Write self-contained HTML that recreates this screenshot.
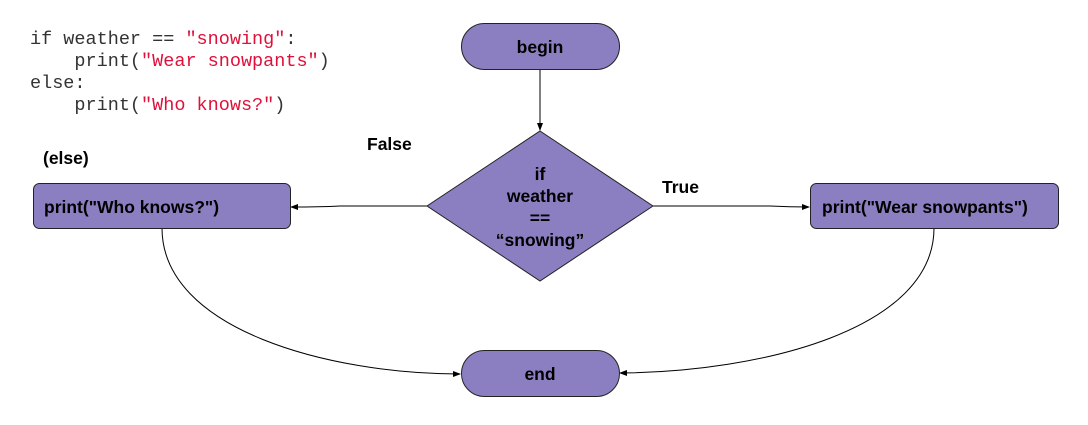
<!DOCTYPE html>
<html><head><meta charset="utf-8"><style>
html,body{margin:0;padding:0;background:#fff;width:1088px;height:425px;overflow:hidden}
svg{display:block}
.b{font-family:"Liberation Sans",sans-serif;font-weight:bold;font-size:17.5px;fill:#000}
.m{font-family:"Liberation Mono",monospace;font-size:18.5px;fill:#333;white-space:pre}
.s{fill:#e0103a}
</style></head><body>
<svg width="1088" height="425" viewBox="0 0 1088 425">
<defs><marker id="a" markerWidth="8" markerHeight="6" refX="7" refY="3" orient="auto" markerUnits="userSpaceOnUse"><path d="M0,0 L8,3 L0,6 z" fill="#000"/></marker></defs>
<text class="m" x="30" y="44" xml:space="preserve">if weather == <tspan class="s">"snowing"</tspan>:</text>
<text class="m" x="30" y="66" xml:space="preserve">    print(<tspan class="s">"Wear snowpants"</tspan>)</text>
<text class="m" x="30" y="88" xml:space="preserve">else:</text>
<text class="m" x="30" y="110" xml:space="preserve">    print(<tspan class="s">"Who knows?"</tspan>)</text>

<g fill="none" stroke="#000" stroke-width="1">
<path d="M540,69 L540,130" marker-end="url(#a)"/>
<path d="M427,206 L340,206 Q320,207 291,207" marker-end="url(#a)"/>
<path d="M653,206 L770,206 Q790,207 809,207" marker-end="url(#a)"/>
<path d="M162,228 C162,330 330,374 460,374" marker-end="url(#a)"/>
<path d="M934,228 C934,330 760,372 620,373" marker-end="url(#a)"/>
</g>
<g fill="#8c7fc1" stroke="#222" stroke-width="1">
<rect x="461.5" y="23.5" width="158" height="46" rx="23"/>
<polygon points="540,131 653,206 540,281 427,206"/>
<rect x="33.5" y="183.5" width="257" height="45" rx="6"/>
<rect x="810.5" y="183.5" width="248" height="45" rx="6"/>
<rect x="461.5" y="350.5" width="158" height="46" rx="23"/>
</g>
<text class="b" x="540" y="53" text-anchor="middle">begin</text>
<text class="b" x="540" y="380" text-anchor="middle">end</text>
<text class="b" x="540" y="180" text-anchor="middle">if</text>
<text class="b" x="540" y="202" text-anchor="middle">weather</text>
<text class="b" x="540" y="224" text-anchor="middle">==</text>
<text class="b" x="540" y="246" text-anchor="middle">“snowing”</text>
<text class="b" x="44" y="213">print("Who knows?")</text>
<text class="b" x="822" y="213">print("Wear snowpants")</text>
<text class="b" x="367" y="150">False</text>
<text class="b" x="43" y="164">(else)</text>
<text class="b" x="662" y="193">True</text>
</svg>
</body></html>
